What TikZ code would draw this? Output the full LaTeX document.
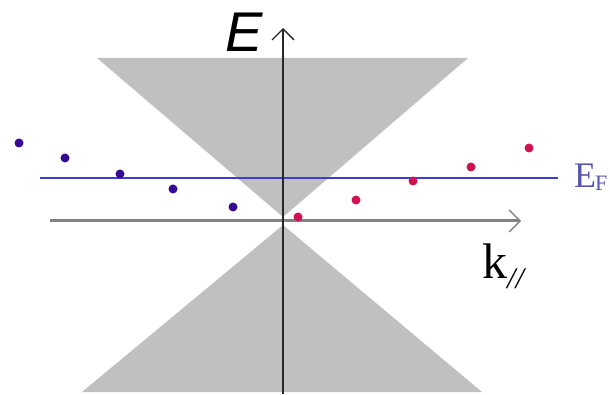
\documentclass[tikz,border=0pt]{standalone}
\usepackage{fontspec}
\setmainfont{Liberation Serif}
\newfontfamily\arialfont{Liberation Sans}
\usetikzlibrary{arrows.meta}
\definecolor{conegray}{RGB}{192,192,192}
\definecolor{efblue}{RGB}{60,60,215}
\definecolor{eflabel}{RGB}{85,85,175}
\definecolor{dotblue}{RGB}{55,10,150}
\definecolor{dotred}{RGB}{205,20,80}
\definecolor{haxis}{RGB}{130,130,130}
\definecolor{vaxis}{RGB}{40,40,40}
\tikzset{
  cone/.style={fill=conegray, draw=none},
  bluedot/.style={circle, fill=dotblue, inner sep=0pt, minimum size=9pt},
  reddot/.style={circle, fill=dotred, inner sep=0pt, minimum size=9pt},
  axistip/.style={-{Straight Barb[length=11pt,width=22pt,line width=1.3pt]}},
}
\begin{document}
\begin{tikzpicture}[x=1pt,y=-1pt]
\useasboundingbox (0,0) rectangle (610,395);
% cones
\fill[cone] (97,58) -- (468,58) -- (283,217) -- cycle;
\fill[cone] (82,392) -- (482,392) -- (283,225) -- cycle;
% coordinates
\coordinate (vb) at (283,394);
\coordinate (vt) at (283,28);
\coordinate (hl) at (50,221);
\coordinate (hr) at (521,221);
\coordinate (efl) at (40,178);
\coordinate (efr) at (558,178);
% Fermi level
\draw[draw=efblue, line width=1.1pt] (efl) -- (efr);
% axes
\draw[axistip, draw=haxis, line width=3pt] (hl) -- (hr);
\draw[axistip, draw=vaxis, line width=1.8pt] (vb) -- (vt);
% dots
\node[bluedot] (b1) at (19,143) {};
\node[bluedot] (b2) at (65,158) {};
\node[bluedot] (b3) at (120,174) {};
\node[bluedot] (b4) at (173,189) {};
\node[bluedot] (b5) at (233,207) {};
\node[reddot] (r1) at (298,217) {};
\node[reddot] (r2) at (356,200) {};
\node[reddot] (r3) at (413,181) {};
\node[reddot] (r4) at (471,167) {};
\node[reddot] (r5) at (529,148) {};
% labels
\node[font={\arialfont\itshape\fontsize{56}{56}\selectfont}, inner sep=0pt, anchor=base] (E) at (244,52) {E};
\node[font=\fontsize{50}{50}\selectfont, inner sep=0pt, anchor=base west] (k) at (482,278) {k\raisebox{-10pt}{\fontsize{30}{30}\selectfont\itshape //}};
\node[font=\fontsize{36}{36}\selectfont, text=eflabel, inner sep=0pt, anchor=base west] (EF) at (574,188) {E\kern-1pt\raisebox{-3pt}{\fontsize{22}{22}\selectfont F}};
\end{tikzpicture}
\end{document}
